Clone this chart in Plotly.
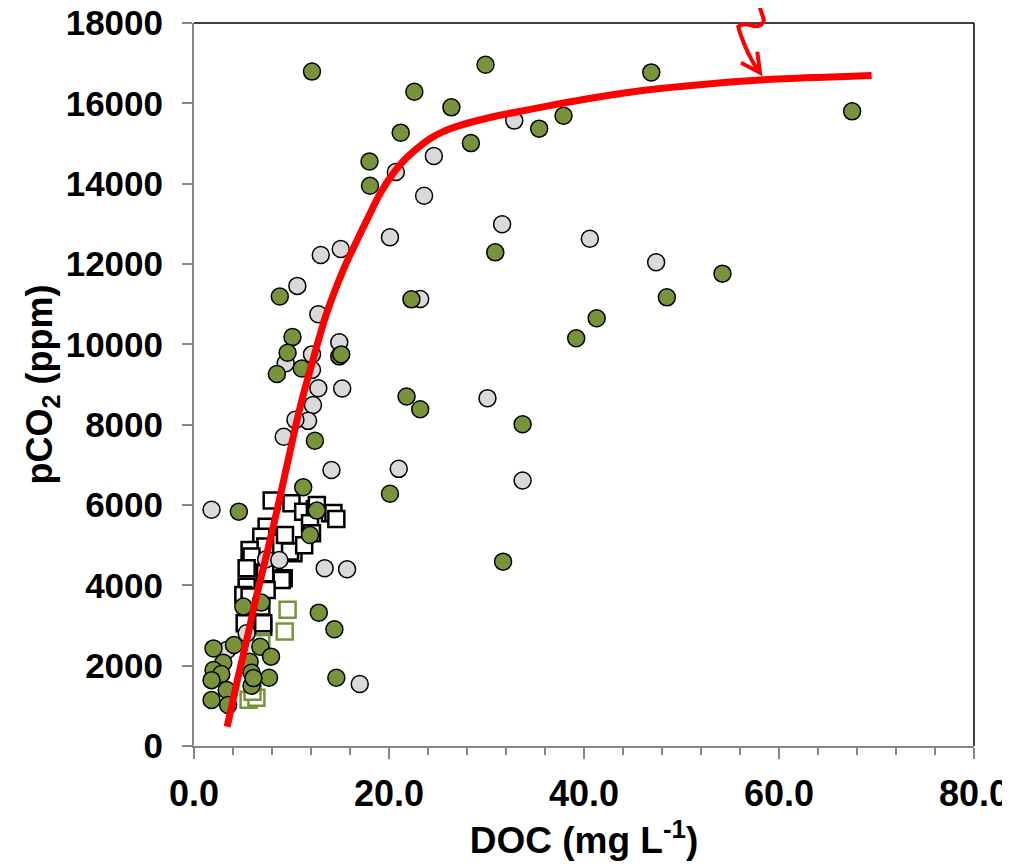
import plotly.graph_objects as go

# ---- data ----
green_x = [12.1, 22.6, 26.4, 29.9, 46.9, 67.5, 21.2, 28.4, 18.0, 18.05, 35.4, 37.9, 30.9, 54.2,
           48.5, 41.3, 39.2, 22.3, 8.8, 10.1, 9.6, 14.9, 15.1, 11.05, 8.5, 12.4, 21.8, 23.2, 33.7,
           20.1, 31.7, 11.2, 4.6, 12.6, 11.9, 5.06, 6.9, 12.8, 14.4, 14.6, 2.0, 4.1, 6.8, 7.9, 3.0,
           5.7, 2.0, 2.8, 5.9, 1.8, 7.7, 5.9, 3.35, 1.8, 3.5, 6.1]
green_y = [16790, 16290, 15900, 16960, 16770, 15800, 15270, 15010, 14550, 13950, 15370, 15690, 12290, 11760,
           11170, 10650, 10150, 11120, 11190, 10180, 9790, 9700, 9750, 9400, 9260, 7600, 8700, 8385, 8010,
           6280, 4590, 6440, 5835, 5860, 5255, 3470, 3570, 3320, 2905, 1700, 2430, 2515, 2470, 2225, 2075,
           2100, 1890, 1790, 1825, 1640, 1700, 1500, 1395, 1145, 1020, 1690]

gray_x = [24.6, 20.7, 23.6, 32.85, 31.6, 40.6, 47.4, 20.1, 15.05, 13.0, 10.6, 23.2, 12.75, 14.9,
          12.1, 9.4, 12.1, 12.75, 15.2, 12.2, 11.7, 10.4, 9.2, 30.1, 21.0, 33.7, 14.1, 1.8, 7.4,
          8.75, 13.4, 15.7, 5.4, 17.0, 3.4]
gray_y = [14690, 14290, 13700, 15570, 12990, 12630, 12045, 12665, 12375, 12225, 11455, 11130, 10750, 10050,
          9750, 9530, 9365, 8905, 8900, 8490, 8095, 8120, 7700, 8660, 6900, 6610, 6870, 5880, 4650,
          4630, 4425, 4400, 2805, 1545, 2390]

white_sq_x = [7.97, 10.0, 11.2, 12.4, 13.95, 14.3, 12.6, 11.9, 7.45, 9.33, 6.9, 12.1, 7.3, 5.7, 10.2,
              9.85, 5.9, 5.4, 7.3, 9.2, 9.0, 5.4, 7.45, 5.06, 5.7, 6.9, 7.1, 5.2, 7.1, 14.6, 11.3]
white_sq_y = [6110, 6045, 5835, 5895, 5795, 5800, 6000, 5545, 5460, 5255, 5210, 5295, 4965, 4880, 4800,
              4840, 4715, 4425, 4300, 4175, 4135, 3965, 3885, 3760, 3720, 3470, 2970, 3055, 3055, 5650, 5000]

green_sq_x = [9.6, 9.3, 6.9, 5.6, 6.4, 6.0]
green_sq_y = [3390, 2850, 2557, 1150, 1200, 1350]

fit_x = [3.4, 4.5, 5.5, 6.4, 7.5, 8.5, 9.5, 10.9, 12.2, 13.6, 15.3, 16.7, 17.9, 19.1, 20.5, 21.5,
         23.0, 24.2, 25.5, 27.3, 29.3, 31.5, 34.1, 37.5, 41.0, 44.5, 47.8, 53.0, 58.1, 64.0, 69.5]
fit_y = [480, 1690, 2740, 3720, 4820, 5850, 6950, 8450, 9610, 10770, 11850, 12580, 13180, 13760, 14280, 14570,
         14900, 15120, 15290, 15450, 15585, 15710, 15830, 15990, 16140, 16270, 16370, 16490, 16580, 16645, 16690]

x_ticks = [0, 20, 40, 60, 80]
y_ticks = list(range(0, 18001, 2000))

GREEN = "#77933C"
GRAY = "#D9D9D9"
AXIS = "#868686"
FONT = "Liberation Sans"

fig = go.Figure()
fig.add_trace(go.Scatter(x=white_sq_x, y=white_sq_y, mode="markers",
                         marker=dict(symbol="square", size=16, color="white",
                                     line=dict(color="black", width=2.5)), showlegend=False))
fig.add_trace(go.Scatter(x=green_sq_x, y=green_sq_y, mode="markers",
                         marker=dict(symbol="square", size=16, color="white",
                                     line=dict(color=GREEN, width=2.5)), showlegend=False))
fig.add_trace(go.Scatter(x=gray_x, y=gray_y, mode="markers",
                         marker=dict(symbol="circle", size=17, color=GRAY,
                                     line=dict(color="black", width=1.5)), showlegend=False))
fig.add_trace(go.Scatter(x=green_x, y=green_y, mode="markers",
                         marker=dict(symbol="circle", size=17, color=GREEN,
                                     line=dict(color="black", width=1.5)), showlegend=False))
fig.add_trace(go.Scatter(x=fit_x, y=fit_y, mode="lines",
                         line=dict(color="#FF0000", width=7, shape="spline", smoothing=1.0),
                         showlegend=False))

# frame (top and right in black)
fig.add_shape(type="line", xref="paper", yref="paper", x0=0, x1=1, y0=1, y1=1,
              line=dict(color="black", width=1.5), layer="below")
fig.add_shape(type="line", xref="paper", yref="paper", x0=1, x1=1, y0=0, y1=1,
              line=dict(color="black", width=1.5), layer="below")

# the page body has an 8px margin, so the figure starts at (8, 8) in the window
OFF = 8
L, R, T, B = 194, 974, 23, 746   # plot area in window pixels
W, H = 1010 - OFF, 867 - OFF

def px(xp, yp):
    return (xp - L) / (R - L), (B - yp) / (B - T)

# hand-drawn squiggly arrow pointing at the curve
squig = [(754, -10), (760, 8), (764, 20), (761.7, 27.3), (753.3, 26), (743.3, 22), (738.3, 26.7),
         (740.7, 36.7), (748.3, 53.3), (755, 66.7), (760, 72.7)]
pts = [px(a, b) for a, b in squig]
path = "M {:.5f},{:.5f}".format(*pts[0])
for i in range(1, len(pts) - 1, 2):
    path += " Q {:.5f},{:.5f} {:.5f},{:.5f}".format(*pts[i], *pts[i + 1])
fig.add_shape(type="path", xref="paper", yref="paper", path=path,
              line=dict(color="#FF0000", width=4))
h1 = px(741, 62.7); tip = px(760, 72.7); h2 = px(757.3, 51.7)
fig.add_shape(type="path", xref="paper", yref="paper",
              path="M {:.5f},{:.5f} L {:.5f},{:.5f} L {:.5f},{:.5f}".format(*h1, *tip, *h2),
              line=dict(color="#FF0000", width=4))

fig.update_layout(
    width=W, height=H,
    margin=dict(l=L - OFF, r=1010 - R, t=T - OFF, b=867 - B, autoexpand=False),
    plot_bgcolor="white", paper_bgcolor="white",
    font=dict(family=FONT, color="black"),
)
fig.update_xaxes(
    range=[0, 80], tickvals=x_ticks, ticktext=["{:.1f}".format(v) for v in x_ticks],
    automargin=False, ticklabeloverflow="allow",
    showgrid=False, zeroline=False, showline=True, linecolor=AXIS, linewidth=2,
    ticks="outside", ticklen=11, tickwidth=2, tickcolor=AXIS,
    minor=dict(dtick=4, ticks="outside", ticklen=7, tickwidth=2, tickcolor=AXIS, showgrid=False),
    tickfont=dict(family=FONT, size=36, weight="bold", color="black"),
    ticklabelstandoff=4,
    title=dict(text="DOC (mg L<sup>-1</sup>)", font=dict(family=FONT, size=37, weight="bold", color="black"),
               standoff=14),
)
fig.update_yaxes(
    range=[0, 18000], tickvals=y_ticks, ticktext=[str(v) for v in y_ticks],
    automargin=False, ticklabeloverflow="allow",
    showgrid=False, zeroline=False, showline=True, linecolor=AXIS, linewidth=2,
    ticks="outside", ticklen=10, tickwidth=2, tickcolor=AXIS,
    tickfont=dict(family=FONT, size=35, weight="bold", color="black"),
    ticklabelstandoff=12,
    title=dict(text="pCO<sub>2</sub> (ppm)", font=dict(family=FONT, size=36, weight="bold", color="black"),
               standoff=2),
)

fig.write_html("out.html")
